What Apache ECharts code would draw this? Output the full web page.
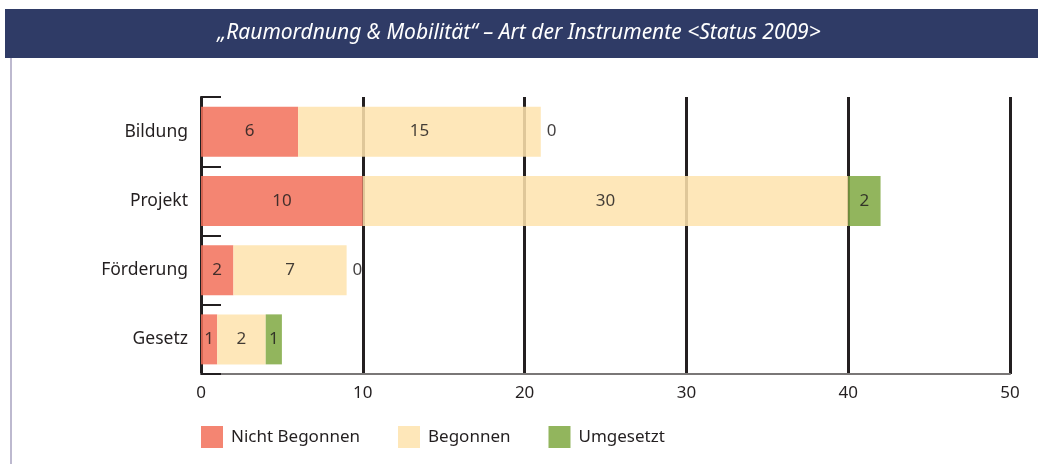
<!DOCTYPE html>
<html>
<head>
<meta charset="utf-8">
<script src="https://cdn.jsdelivr.net/npm/echarts@6/dist/echarts.min.js"></script>
<style>
	html, body { margin: 0; padding: 0; background: #fff; }
	#chart { width: 1038px; height: 464px; }
</style>
</head>
<body>
<div id="chart"></div>
<script>
var categories = ['Bildung', 'Projekt', 'Förderung', 'Gesetz'];
// bar lengths as drawn in the picture
var nichtBegonnen = [6, 10, 2, 1];
var begonnen = [15, 30, 7, 3];
var umgesetzt = [0, 2, 0, 1];
// numbers printed on the bars (Gesetz/Begonnen reads 2 although its bar spans 3)
var nichtBegonnenLabels = ['6', '10', '2', '1'];
var begonnenLabels = ['15', '30', '7', '2'];
var umgesetztLabels = ['0', '2', '0', '1'];
var xTicks = [0, 10, 20, 30, 40, 50];

var textColor = '#231f20';

// zero values get their label next to the bar end
function toData(values) {
	return values.map(function(v) {
		if (v === 0) {
			return { value : v, label : { position : 'right', distance : 6 } };
		}
		return v;
	});
}

function makeSeries(name, values, labels, color) {
	return {
		name : name,
		type : 'bar',
		stack : 'total',
		barWidth : 50,
		data : toData(values),
		itemStyle : { color : color, opacity : 0.86 },
		label : {
			show : true,
			position : 'inside',
			color : textColor,
			fontSize : 17,
			fontFamily : 'Noto Sans',
			formatter : function(p) { return labels[p.dataIndex]; }
		},
		emphasis : { disabled : true }
	};
}

var option = {
	animation : false,
	textStyle : { fontFamily : 'Noto Sans', color : textColor },
	graphic : [ {
		type : 'rect',
		shape : { x : 5, y : 9, width : 1040, height : 49 },
		style : { fill : '#2f3b66' },
		silent : true
	}, {
		type : 'rect',
		shape : { x : 10, y : 58, width : 2, height : 410 },
		style : { fill : '#bdb9cf' },
		silent : true
	}, {
		type : 'text',
		left : 'center',
		top : 23,
		style : {
			text : '„Raumordnung & Mobilität“ – Art der Instrumente <Status 2009>',
			fill : '#ffffff',
			font : 'italic 21px "Liberation Sans Narrow", "Noto Sans"'
		}
	} ],
	legend : {
		left : 196,
		top : 421,
		itemWidth : 22,
		itemHeight : 22,
		itemGap : 38,
		icon : 'rect',
		textStyle : { fontSize : 17, color : textColor, padding : [0, 0, 0, 3] },
		data : ['Nicht Begonnen', 'Begonnen', 'Umgesetzt']
	},
	grid : {
		left : 201,
		right : 28,
		top : 97,
		bottom : 90,
		containLabel : false
	},
	xAxis : {
		type : 'value',
		min : xTicks[0],
		max : xTicks[xTicks.length - 1],
		interval : 10,
		axisLine : { show : true, lineStyle : { color : '#7a7777', width : 2 } },
		axisTick : { show : false },
		axisLabel : { fontSize : 17, color : textColor, margin : 11 },
		splitLine : { show : true, lineStyle : { color : '#231f20', width : 3 } }
	},
	yAxis : {
		type : 'category',
		inverse : true,
		data : categories,
		axisLine : { show : true, lineStyle : { color : '#231f20', width : 2 } },
		axisTick : { show : true, inside : true, length : 20, lineStyle : { color : '#231f20', width : 2 } },
		axisLabel : { fontSize : 17.5, color : textColor, margin : 13 }
	},
	series : [
		makeSeries('Nicht Begonnen', nichtBegonnen, nichtBegonnenLabels, '#f2715b'),
		makeSeries('Begonnen', begonnen, begonnenLabels, '#fee3ad'),
		makeSeries('Umgesetzt', umgesetzt, umgesetztLabels, '#80a942')
	]
};

var myChart = echarts.init(document.getElementById('chart'));
myChart.setOption(option);
</script>
</body>
</html>
